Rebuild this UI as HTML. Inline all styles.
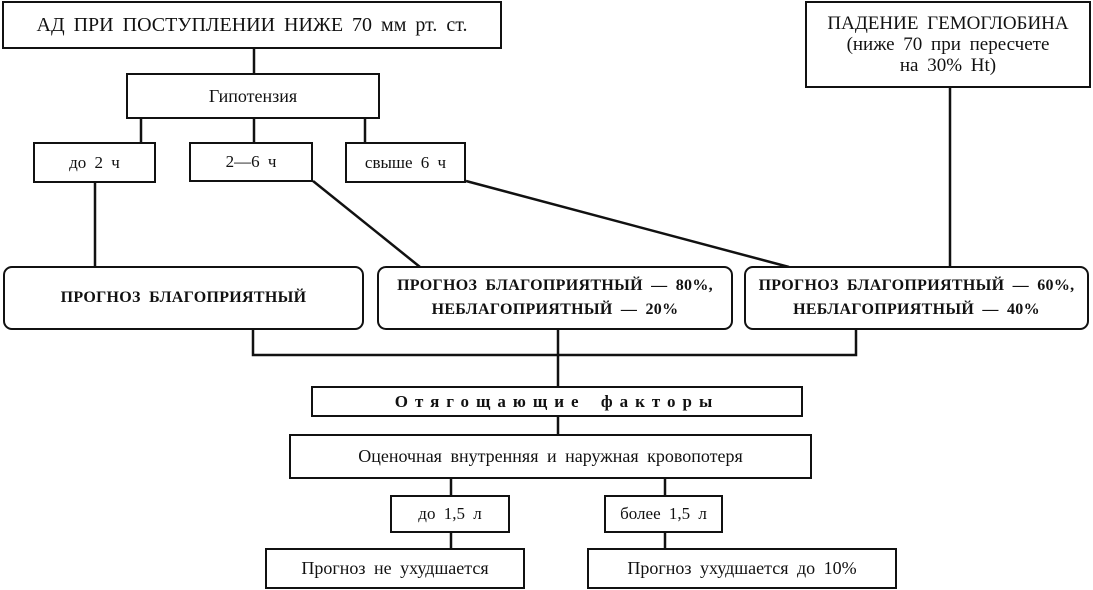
<!DOCTYPE html>
<html><head><meta charset="utf-8"><style>
body{margin:0;width:1093px;height:590px;background:#fff;position:relative;overflow:hidden;font-family:"Liberation Serif",serif;color:#111}
.b{position:absolute;box-sizing:border-box;border:2.5px solid #111;display:flex;align-items:center;justify-content:center;text-align:center;background:#fff;word-spacing:4px}
.r{border-radius:9px;font-weight:bold;font-size:16px;line-height:24px;letter-spacing:0.3px}
svg{position:absolute;left:0;top:0}
</style></head><body>
<svg width="1093" height="590"><g stroke="#111" stroke-width="2.5" fill="none">
<line x1="254" y1="48" x2="254" y2="74"/>
<line x1="141" y1="118" x2="141" y2="143"/><line x1="254" y1="118" x2="254" y2="143"/><line x1="365" y1="118" x2="365" y2="143"/>
<line x1="95" y1="181" x2="95" y2="267"/>
<line x1="313" y1="181" x2="420" y2="267"/>
<line x1="466" y1="181" x2="789" y2="267"/>
<line x1="950" y1="86" x2="950" y2="267"/>
<polyline points="253,328 253,355 856,355 856,328"/>
<line x1="558" y1="328" x2="558" y2="387"/>
<line x1="558" y1="416" x2="558" y2="435"/>
<line x1="451" y1="477" x2="451" y2="496"/><line x1="665" y1="477" x2="665" y2="496"/>
<line x1="451" y1="532" x2="451" y2="549"/><line x1="665" y1="532" x2="665" y2="549"/>
</g></svg>
<div class="b" style="left:2px;top:1px;width:500px;height:48px;font-size:20px">АД ПРИ ПОСТУПЛЕНИИ НИЖЕ 70 мм рт. ст.</div>
<div class="b" style="left:805px;top:1px;width:286px;height:87px;font-size:19px;line-height:21px">ПАДЕНИЕ ГЕМОГЛОБИНА<br>(ниже 70 при пересчете<br>на 30% Ht)</div>
<div class="b" style="left:126px;top:73px;width:254px;height:46px;font-size:18px">Гипотензия</div>
<div class="b" style="left:33px;top:142px;width:123px;height:41px;font-size:17px">до 2 ч</div>
<div class="b" style="left:189px;top:142px;width:124px;height:40px;font-size:17px">2—6 ч</div>
<div class="b" style="left:345px;top:142px;width:121px;height:41px;font-size:17px">свыше 6 ч</div>
<div class="b r" style="left:3px;top:266px;width:361px;height:64px">ПРОГНОЗ БЛАГОПРИЯТНЫЙ</div>
<div class="b r" style="left:377px;top:266px;width:356px;height:64px">ПРОГНОЗ БЛАГОПРИЯТНЫЙ — 80%,<br>НЕБЛАГОПРИЯТНЫЙ — 20%</div>
<div class="b r" style="left:744px;top:266px;width:345px;height:64px">ПРОГНОЗ БЛАГОПРИЯТНЫЙ — 60%,<br>НЕБЛАГОПРИЯТНЫЙ — 40%</div>
<div class="b" style="left:311px;top:386px;width:492px;height:31px;font-size:17px;font-weight:bold;letter-spacing:7px">Отягощающие факторы</div>
<div class="b" style="left:289px;top:434px;width:523px;height:45px;font-size:18px">Оценочная внутренняя и наружная кровопотеря</div>
<div class="b" style="left:390px;top:495px;width:120px;height:38px;font-size:17px">до 1,5 л</div>
<div class="b" style="left:604px;top:495px;width:119px;height:38px;font-size:17px">более 1,5 л</div>
<div class="b" style="left:265px;top:548px;width:260px;height:41px;font-size:18px">Прогноз не ухудшается</div>
<div class="b" style="left:587px;top:548px;width:310px;height:41px;font-size:18px">Прогноз ухудшается до 10%</div>
</body></html>
